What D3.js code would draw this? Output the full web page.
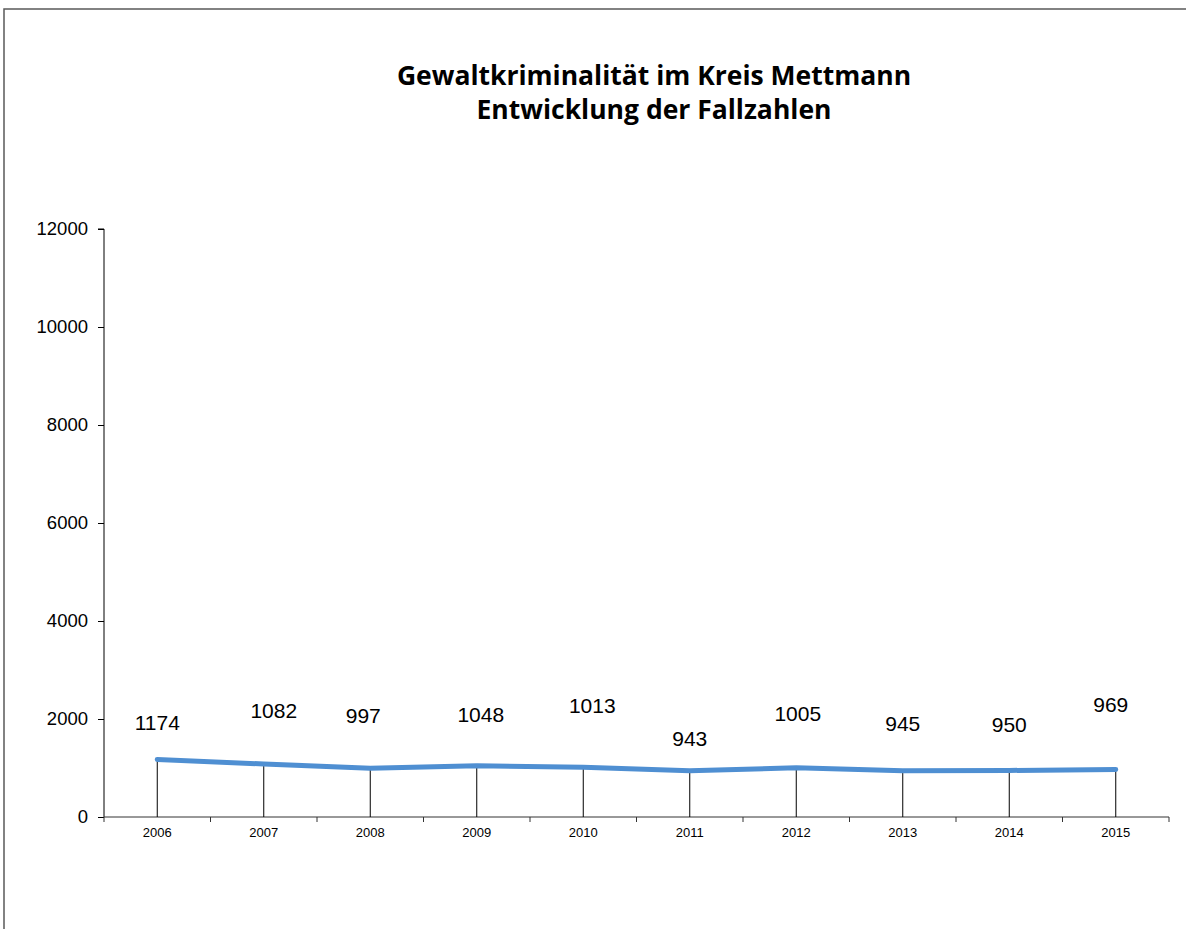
<!DOCTYPE html>
<html>
<head>
<meta charset="utf-8">
<script src="https://cdn.jsdelivr.net/npm/d3@7"></script>
<style>
  html, body { margin: 0; padding: 0; background: #fff; }
  svg { display: block; }
</style>
</head>
<body>
<svg id="chart" width="1186" height="929"></svg>
<script>
// Fallzahlen Gewaltkriminalität, Kreis Mettmann
const years = ["2006", "2007", "2008", "2009", "2010", "2011", "2012", "2013", "2014", "2015"];
const cases = [1174, 1082, 997, 1048, 1013, 943, 1005, 945, 950, 969];
const yTicks = [0, 2000, 4000, 6000, 8000, 10000, 12000];
const titleLines = ["Gewaltkriminalität im Kreis Mettmann", "Entwicklung der Fallzahlen"];

// Placement of the value labels relative to their point (px)
const labelShift = [[0, -37], [10, -54], [-7, -53], [4, -51], [9, -62], [0, -32], [1.5, -54], [0, -47], [0, -46], [-5, -65]];

const svg = d3.select("#chart");
const W = 1186, H = 929;
const plot = { left: 104, right: 1169, top: 229, bottom: 817 };

// Outer frame
svg.append("rect")
  .attr("x", 4).attr("y", 9)
  .attr("width", W + 10).attr("height", H + 10)
  .attr("fill", "none")
  .attr("stroke", "#5a5a5a")
  .attr("stroke-width", 1.5);

// Title
const title = svg.append("text")
  .attr("text-anchor", "middle")
  .attr("font-family", "'Open Sans', Lato, sans-serif")
  .attr("font-weight", "bold")
  .attr("font-size", 26.5)
  .attr("fill", "#000");
title.selectAll("tspan")
  .data(titleLines)
  .join("tspan")
  .attr("x", 654)
  .attr("y", (d, i) => 85 + i * 34)
  .text(d => d);

const x = d3.scaleBand().domain(years).range([plot.left, plot.right]);
const y = d3.scaleLinear().domain([0, 12000]).range([plot.bottom, plot.top]);

// Y axis
const yAxis = svg.append("g")
  .attr("transform", `translate(${plot.left},0)`)
  .call(d3.axisLeft(y).tickValues(yTicks).tickFormat(d3.format("d")).tickSize(6).tickPadding(10));
yAxis.select(".domain").attr("stroke", "#000").attr("d", `M-6,${plot.top}H0V${plot.bottom}`);
yAxis.selectAll(".tick line").attr("stroke", "#000");
yAxis.selectAll(".tick text")
  .attr("font-family", "'Liberation Sans', Arial, sans-serif")
  .attr("font-size", 18.5)
  .attr("fill", "#000");

// X axis: labels centred in bands, tick marks on the band boundaries
const xAxis = svg.append("g")
  .attr("transform", `translate(0,${plot.bottom})`)
  .call(d3.axisBottom(x).tickSize(0).tickPadding(11));
xAxis.select(".domain").attr("stroke", "#333").attr("d", `M${plot.left},0H${plot.right}`);
xAxis.selectAll(".tick text")
  .attr("font-family", "'Liberation Sans', Arial, sans-serif")
  .attr("font-size", 13)
  .attr("fill", "#000");
const bounds = years.map(d => x(d)).concat([x(years[years.length - 1]) + x.bandwidth()]);
xAxis.selectAll("line.boundary")
  .data(bounds)
  .join("line")
  .attr("class", "boundary")
  .attr("x1", d => d).attr("x2", d => d)
  .attr("y1", 0).attr("y2", 5)
  .attr("stroke", "#333");

const cx = d => x(d) + x.bandwidth() / 2;
const points = years.map((yr, i) => ({ yr, v: cases[i], i }));

// Drop lines from each point down to the axis
svg.append("g")
  .selectAll("line")
  .data(points)
  .join("line")
  .attr("x1", d => cx(d.yr)).attr("x2", d => cx(d.yr))
  .attr("y1", d => y(d.v)).attr("y2", plot.bottom)
  .attr("stroke", "#000")
  .attr("stroke-width", 1);

// Series line
svg.append("path")
  .datum(points)
  .attr("fill", "none")
  .attr("stroke", "#4f8fd2")
  .attr("stroke-width", 5)
  .attr("stroke-linecap", "round")
  .attr("stroke-linejoin", "round")
  .attr("d", d3.line().x(d => cx(d.yr)).y(d => y(d.v)));

// Value labels
svg.append("g")
  .selectAll("text")
  .data(points)
  .join("text")
  .attr("x", d => cx(d.yr) + labelShift[d.i][0])
  .attr("y", d => y(d.v) + labelShift[d.i][1])
  .attr("dy", "0.36em")
  .attr("text-anchor", "middle")
  .attr("font-family", "'Liberation Sans', Arial, sans-serif")
  .attr("font-size", 21)
  .attr("fill", "#000")
  .text(d => d.v);
</script>
</body>
</html>
